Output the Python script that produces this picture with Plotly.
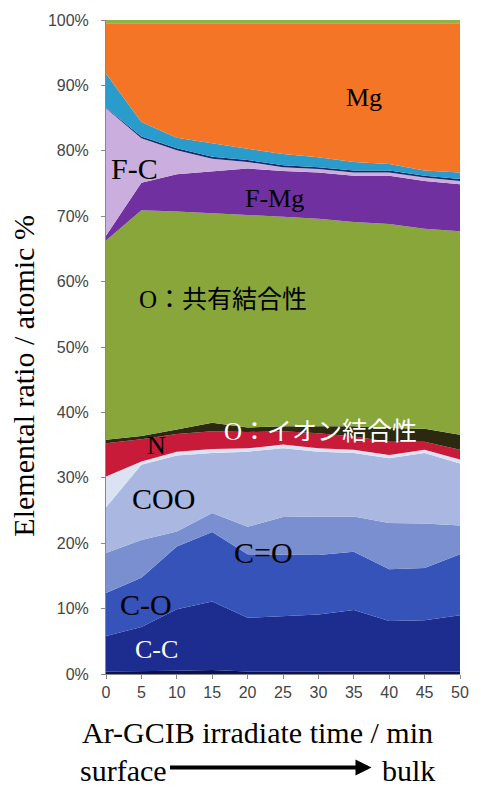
import plotly.graph_objects as go

# Ar-GCIB irradiation time (min)
time_min = [0, 5, 10, 15, 20, 25, 30, 35, 40, 45, 50]

# Elemental ratio of each component (atomic %), listed bottom to top
base_dark = [0.4, 0.4, 0.5, 0.6, 0.4, 0.4, 0.4, 0.5, 0.5, 0.4, 0.4]
c_c = [5.4, 6.8, 9.4, 10.5, 8.2, 8.5, 8.7, 9.3, 7.6, 7.8, 8.6]
c_o = [6.6, 7.5, 9.6, 10.6, 9.7, 9.3, 9.1, 8.9, 7.9, 8.0, 9.3]
c_eq_o = [6.1, 5.8, 2.3, 2.9, 4.2, 5.8, 5.9, 5.4, 7.1, 6.8, 4.4]
coo = [7.0, 11.5, 11.6, 9.2, 11.5, 10.5, 9.9, 9.7, 9.9, 10.8, 9.5]
c_other = [4.7, 0.5, 0.6, 0.6, 0.5, 0.6, 0.5, 0.5, 0.5, 0.5, 0.6]
n_val = [5.1, 3.4, 2.7, 2.7, 2.5, 2.0, 2.3, 2.0, 2.0, 1.2, 1.5]
o_ionic = [0.5, 0.5, 0.7, 1.3, 0.7, 0.8, 1.1, 1.6, 2.1, 2.0, 2.3]
o_covalent = [30.5, 34.5, 33.3, 32.1, 32.5, 32.0, 31.7, 31.2, 31.2, 30.6, 31.1]
f_mg = [0.7, 4.2, 5.7, 6.4, 7.1, 7.0, 7.1, 7.1, 7.4, 7.3, 7.2]
f_c = [19.5, 6.8, 3.7, 1.9, 1.0, 0.6, 0.5, 0.5, 0.5, 0.5, 0.5]
f_other = [0.1, 0.3, 0.3, 0.3, 0.3, 0.3, 0.3, 0.3, 0.3, 0.3, 0.3]
f_cyan = [5.2, 2.2, 1.6, 2.0, 1.7, 1.7, 1.5, 1.3, 1.0, 0.8, 1.0]
mg = [7.7, 15.1, 17.5, 18.4, 19.2, 20.0, 20.5, 21.2, 21.5, 22.5, 22.8]
top_other = [0.5] * 11

y_ticks = [0, 10, 20, 30, 40, 50, 60, 70, 80, 90, 100]
y_tick_text = [f"{v}%" for v in y_ticks]
x_ticks = time_min

layers = [
    ("base", base_dark, "#0b1250"),
    ("C-C", c_c, "#1c2d8f"),
    ("C-O", c_o, "#3553b8"),
    ("C=O", c_eq_o, "#7a8fcf"),
    ("COO", coo, "#aab7e0"),
    ("C other", c_other, "#dbe3f3"),
    ("N", n_val, "#c81b3a"),
    ("O ionic", o_ionic, "#2b2a10"),
    ("O covalent", o_covalent, "#89a63a"),
    ("F-Mg", f_mg, "#7030a0"),
    ("F-C", f_c, "#c9aede"),
    ("F other", f_other, "#172a6a"),
    ("F cyan", f_cyan, "#2a9ccb"),
    ("Mg", mg, "#f47526"),
    ("top", top_other, "#93b248"),
]

fig = go.Figure()
for name, vals, color in layers:
    fig.add_trace(go.Scatter(
        x=time_min, y=vals, name=name, mode="lines",
        stackgroup="one", line=dict(width=0, color=color),
        fillcolor=color, hoverinfo="skip",
    ))

serif = "Times New Roman, Liberation Serif, Noto Sans CJK JP, serif"

labels = [
    ("Mg", 36.5, 88.2, 26, "black"),
    ("F-C", 4.0, 77.3, 30, "black"),
    ("F-Mg", 23.8, 72.7, 26, "black"),
    ("O：共有結合性", 16.5, 57.3, 25, "black"),
    ("O：イオン結合性", 30.3, 37.1, 25, "white"),
    ("N", 7.1, 35.0, 26, "black"),
    ("COO", 8.1, 26.9, 30, "black"),
    ("C=O", 22.2, 18.6, 30, "black"),
    ("C-O", 5.7, 10.7, 30, "black"),
    ("C-C", 7.1, 3.8, 26, "white"),
]
for text, lx, ly, size, color in labels:
    fig.add_annotation(x=lx, y=ly, text=text, showarrow=False,
                       font=dict(family=serif, size=size, color=color))

# Axis titles and depth direction
title_font = dict(family=serif, size=30, color="black")
fig.add_annotation(xref="paper", yref="paper", x=-0.232, y=0.456,
                   xanchor="center", yanchor="middle",
                   text="Elemental ratio / atomic %", textangle=-90,
                   showarrow=False, font=title_font)
fig.add_annotation(xref="paper", yref="paper", x=0.429, y=-0.09,
                   xanchor="center", yanchor="middle",
                   text="Ar-GCIB irradiate time / min", showarrow=False,
                   font=title_font)
fig.add_annotation(xref="paper", yref="paper", x=-0.078, y=-0.147,
                   xanchor="left", yanchor="middle",
                   text="surface", showarrow=False, font=title_font)
fig.add_annotation(xref="paper", yref="paper", x=0.935, y=-0.147,
                   xanchor="right", yanchor="middle",
                   text="bulk", showarrow=False, font=title_font)
fig.add_annotation(xref="paper", yref="paper", x=0.75, y=-0.143,
                   ax=-203, ay=0, text="", showarrow=True,
                   arrowhead=2, arrowsize=0.8, arrowwidth=4, arrowcolor="black")

tick_font = dict(family="Liberation Sans, Arial", size=16, color="#444")
fig.update_layout(
    width=481, height=790,
    margin=dict(l=106, r=14, t=18, b=116),
    paper_bgcolor="white", plot_bgcolor="white",
    showlegend=False,
    xaxis=dict(range=[0, 50], tickvals=x_ticks, ticks="outside", ticklen=4,
               tickcolor="#888", showline=True, linecolor="#888", linewidth=1,
               showgrid=False, zeroline=False, tickfont=tick_font),
    yaxis=dict(range=[0, 100], tickvals=y_ticks, ticktext=y_tick_text,
               ticks="outside", ticklen=4, tickcolor="#888",
               ticklabelstandoff=9,
               showline=True, linecolor="#888", linewidth=1,
               showgrid=False, zeroline=False, tickfont=tick_font),
)

fig.write_html("out.html")
